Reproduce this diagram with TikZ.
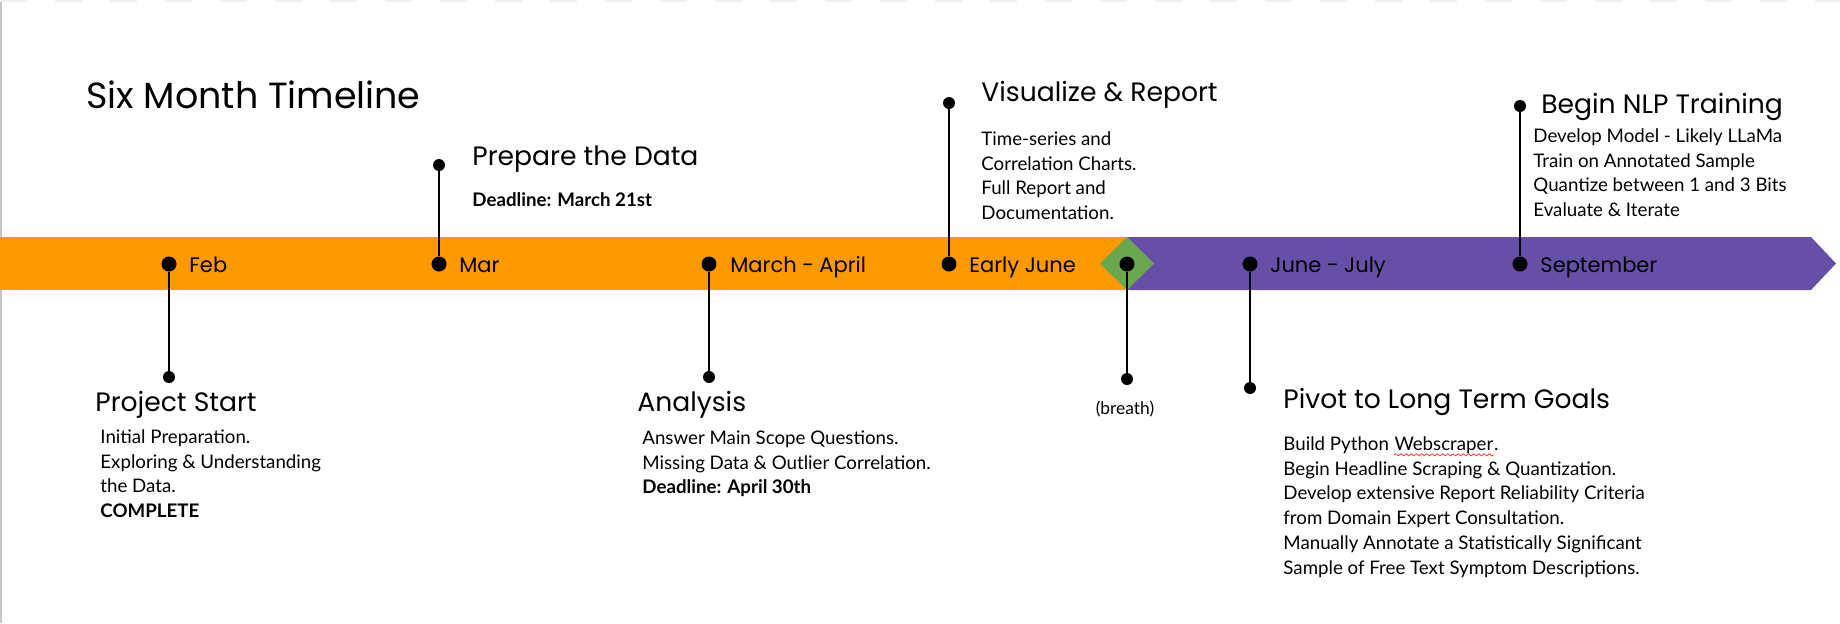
\documentclass[tikz,border=0pt]{standalone}
\usepackage{fontspec}
\setmainfont{Lato}
\newfontfamily\headfont{Poppins}
\usetikzlibrary{decorations.pathmorphing}

% red spell-check wave under a word
\newsavebox\spellbox
\newcommand\spellmark[1]{\sbox\spellbox{#1}%
  \tikz[baseline=(word.base)]{%
    \node[inner sep=0pt, anchor=base west] (word) at (0pt,0pt) {\usebox\spellbox};
    \draw[spellwave] ([yshift=-2.3pt]word.base west) -- ([yshift=-2.3pt]word.base east);}}

\begin{document}
\begin{tikzpicture}[x=0.5pt, y=-0.5pt]
  \definecolor{springcol}{HTML}{FF9900}
  \definecolor{summercol}{HTML}{674EA7}
  \definecolor{breathcol}{HTML}{6AA84F}

  \tikzset{
    bardot/.style={circle, fill=black, inner sep=0pt, minimum size=7.5pt},
    enddot/.style={circle, fill=black, inner sep=0pt, minimum size=6pt},
    stem/.style={line width=1.1pt, black},
    month/.style={anchor=base west, inner sep=0pt,
      font=\headfont\fontsize{10.5}{12}\selectfont},
    heading/.style={anchor=base west, inner sep=0pt,
      font=\headfont\fontsize{13.3}{16}\selectfont},
    body/.style={anchor=north west, inner sep=0pt, align=left,
      font=\fontsize{9.35}{12.45}\selectfont},
    spellwave/.style={draw=red!80, line width=0.4pt, decorate,
      decoration={snake, segment length=2.6pt, amplitude=0.5pt}}
  }

  \useasboundingbox (0,0) rectangle (1840,623);
  \draw[gray!45, line width=1pt] (1,0) -- (1,623);
  \draw[gray!12, line width=1pt, dash pattern=on 13.5pt off 14pt] (0,1) -- (1840,1);

  % timeline bar
  \fill[springcol] (0,237) rectangle (1127,290);
  \fill[summercol] (1127,237) -- (1811,237) -- (1836,263.5) -- (1811,290) -- (1127,290) -- cycle;
  \fill[breathcol] (1100,263.5) -- (1127,237) -- (1154,263.5) -- (1127,290) -- cycle;

  \node[anchor=base west, inner sep=0pt, font=\headfont\fontsize{18.2}{22}\selectfont]
    (title) at (86,108) {Six Month Timeline};

  % Feb
  \node[bardot] (feb) at (169,264) {};
  \node[enddot] (febend) at (169,377) {};
  \draw[stem] (feb) -- (febend);
  \node[month] (feblabel) at (189,272) {Feb};
  \node[heading] (febhead) at (95,411) {Project Start};
  \node[body] (febbody) at (100,429) {Initial Preparation.\\
    Exploring \& Understanding\\ the Data.\\ \textbf{COMPLETE}};

  % Mar
  \node[bardot] (mar) at (439,264) {};
  \node[enddot] (marend) at (439,165) {};
  \draw[stem] (mar) -- (marend);
  \node[month] (marlabel) at (459,272) {Mar};
  \node[heading] (marhead) at (472,165) {Prepare the Data};
  \node[body] (marbody) at (472,192) {\textbf{Deadline: March 21st}};

  % March - April
  \node[bardot] (marapr) at (709,264) {};
  \node[enddot] (maraprend) at (709,377) {};
  \draw[stem] (marapr) -- (maraprend);
  \node[month] (maraprlabel) at (730,272) {March - April};
  \node[heading] (maraprhead) at (637,411) {Analysis};
  \node[body] (maraprbody) at (642,430) {Answer Main Scope Questions.\\
    Missing Data \& Outlier Correlation.\\ \textbf{Deadline: April 30th}};

  % Early June
  \node[bardot] (june) at (949,264) {};
  \node[enddot] (juneend) at (949,103) {};
  \draw[stem] (june) -- (juneend);
  \node[month] (junelabel) at (969,272) {Early June};
  \node[heading] (junehead) at (981,101) {Visualize \& Report};
  \node[body] (junebody) at (981,131) {Time-series and\\ Correlation Charts.\\
    Full Report and\\ Documentation.};

  % breath
  \node[bardot] (breath) at (1127,264) {};
  \node[enddot] (breathend) at (1127,379) {};
  \draw[stem] (breath) -- (breathend);
  \node[anchor=base, inner sep=0pt, font=\fontsize{8.7}{10}\selectfont]
    (breathlabel) at (1125,414) {(breath)};

  % June - July
  \node[bardot] (julyy) at (1250,264) {};
  \node[enddot] (julyend) at (1250,388) {};
  \draw[stem] (julyy) -- (julyend);
  \node[month] (julylabel) at (1270,272) {June - July};
  \node[heading] (julyhead) at (1283,408) {Pivot to Long Term Goals};
  \node[body] (julybody) at (1283,436) {Build Python \spellmark{Webscraper}.\\
    Begin Headline Scraping \& Quantization.\\
    Develop extensive Report Reliability Criteria\\
    from Domain Expert Consultation.\\
    Manually Annotate a Statistically Significant\\
    Sample of Free Text Symptom Descriptions.};

  % September
  \node[bardot] (sept) at (1520,264) {};
  \node[enddot] (septend) at (1520,106) {};
  \draw[stem] (sept) -- (septend);
  \node[month] (septlabel) at (1540,272) {September};
  \node[heading] (septhead) at (1541,113) {Begin NLP Training};
  \node[body] (septbody) at (1533,128) {Develop Model - Likely LLaMa\\
    Train on Annotated Sample\\ Quantize between 1 and 3 Bits\\ Evaluate \& Iterate};
\end{tikzpicture}
\end{document}
